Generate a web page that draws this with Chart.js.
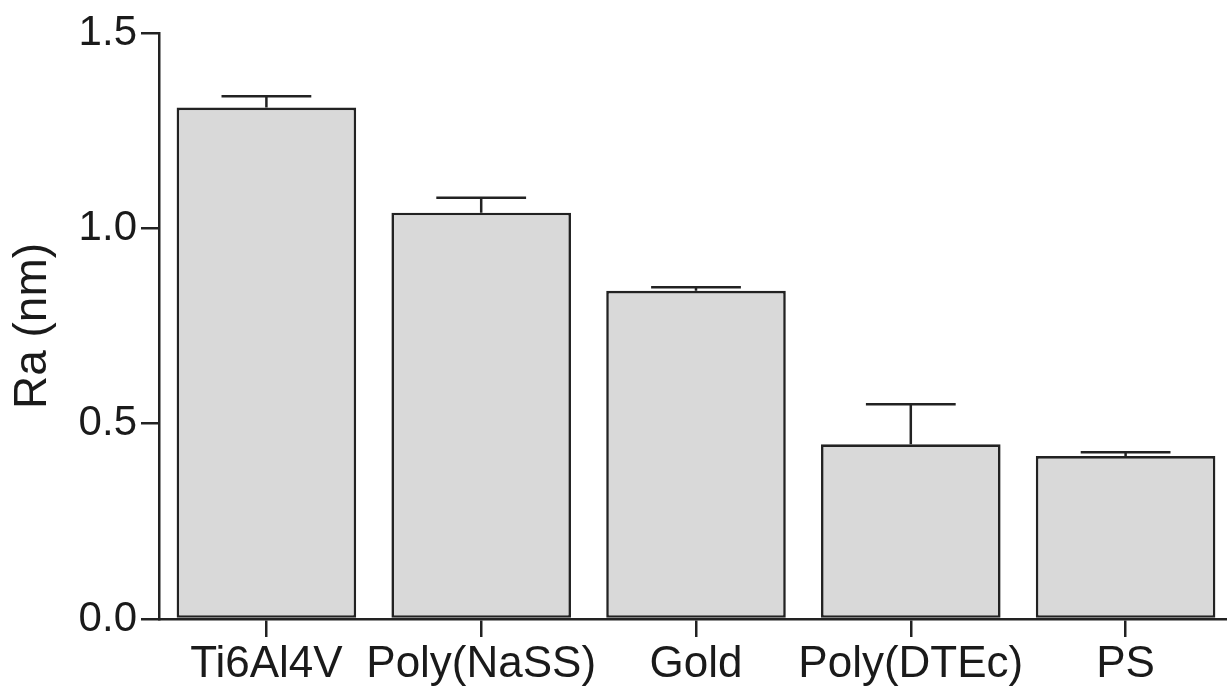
<!DOCTYPE html>
<html>
<head>
<meta charset="utf-8">
<script src="https://cdn.jsdelivr.net/npm/chart.js@4"></script>
<style>
  html, body { margin: 0; padding: 0; background: #fff; overflow: hidden; }
  #wrap { width: 1233px; height: 688px; position: relative; }
</style>
</head>
<body>
<div id="wrap"><canvas id="c"></canvas></div>
<script>
const categories = ["Ti6Al4V", "Poly(NaSS)", "Gold", "Poly(DTEc)", "PS"];
const meanRa = [1.309, 1.040, 0.840, 0.447, 0.417];
const errRa = [0.029, 0.038, 0.009, 0.103, 0.010];
const yTickValues = [0.0, 0.5, 1.0, 1.5];
const yTitle = "Ra (nm)";

const INK = "#222222";
const FONT = "'Liberation Sans', Arial, Helvetica, sans-serif";

const errorBars = {
  id: "errorBars",
  afterDatasetsDraw(chart) {
    const ctx = chart.ctx;
    const meta = chart.getDatasetMeta(0);
    const ys = chart.scales.y;
    ctx.save();
    ctx.strokeStyle = INK;
    ctx.lineWidth = 2.5;
    ctx.lineCap = "butt";
    meta.data.forEach((bar, i) => {
      const top = ys.getPixelForValue(meanRa[i] + errRa[i]);
      const half = bar.width / 4;
      ctx.beginPath();
      ctx.moveTo(bar.x, bar.y);
      ctx.lineTo(bar.x, top);
      ctx.moveTo(bar.x - half, top);
      ctx.lineTo(bar.x + half, top);
      ctx.stroke();
    });
    ctx.restore();
  }
};

new Chart(document.getElementById("c"), {
  type: "bar",
  data: {
    labels: categories,
    datasets: [{
      data: meanRa,
      backgroundColor: "#d9d9d9",
      borderColor: INK,
      borderWidth: 2.6,
      borderSkipped: false,
      categoryPercentage: 1.0,
      barPercentage: 0.836
    }]
  },
  options: {
    responsive: true,
    maintainAspectRatio: false,
    animation: false,
    events: [],
    layout: { padding: { top: 33, left: 0, right: 0, bottom: 0 } },
    plugins: { legend: { display: false }, tooltip: { enabled: false } },
    scales: {
      x: {
        offset: true,
        border: { display: true, color: INK, width: 2.5 },
        grid: { display: true, drawOnChartArea: false, drawTicks: true, tickLength: 18, color: INK, lineWidth: 2.5, offset: false },
        ticks: { color: "#1a1a1a", font: { family: FONT, size: 44 }, padding: 1, maxRotation: 0, autoSkip: false },
        afterFit(scale) { scale.height = 69; }
      },
      y: {
        min: 0,
        max: 1.5,
        afterBuildTicks(scale) { scale.ticks = yTickValues.map(v => ({ value: v })); },
        border: { display: true, color: INK, width: 2.5 },
        grid: { display: true, drawOnChartArea: false, drawTicks: true, tickLength: 18, color: INK, lineWidth: 2.5 },
        ticks: { color: "#1a1a1a", font: { family: FONT, size: 42 }, padding: 4, callback: v => Number(v).toFixed(1) },
        title: { display: true, text: yTitle, color: "#1a1a1a", font: { family: FONT, size: 46 }, padding: { top: 6, bottom: 0 } },
        afterFit(scale) { scale.width = 159; }
      }
    }
  },
  plugins: [errorBars]
});
</script>
</body>
</html>
